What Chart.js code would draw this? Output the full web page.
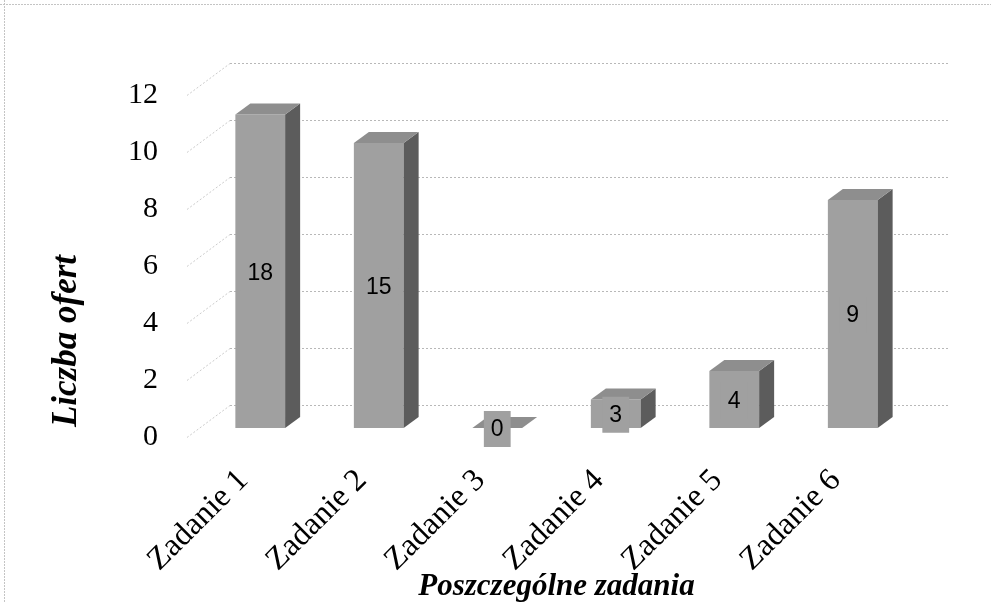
<!DOCTYPE html>
<html><head><meta charset="utf-8">
<script src="https://cdn.jsdelivr.net/npm/chart.js@4"></script>
<style>html,body{margin:0;padding:0;background:#fff}</style>
</head><body>
<canvas id="c" width="991" height="603"></canvas>
<script>
// ---- data ----
const categories = ['Zadanie 1', 'Zadanie 2', 'Zadanie 3', 'Zadanie 4', 'Zadanie 5', 'Zadanie 6'];
const barHeights = [11, 10, 0, 1, 2, 8];
const dataLabels = ['18', '15', '0', '3', '4', '9'];
const yTickValues = [0, 2, 4, 6, 8, 10, 12];
const yTitle = 'Liczba ofert';
const xTitle = 'Poszczególne zadania';

// ---- styling ----
const SERIF = '"Liberation Serif", "Times New Roman", serif';
const FRONT = '#a0a0a0', TOP = '#8e8e8e', SIDE = '#5c5c5c';
const BAR_DEPTH = {dx: 15, dy: -11};
const WALL = {dx: 29, dy: -23};
const FRONT_PLANE = {dx: -14, dy: 9};

const framePlugin = {
  id: 'frame',
  beforeDraw(chart) {
    const ctx = chart.ctx;
    ctx.save();
    ctx.fillStyle = '#fff';
    ctx.fillRect(0, 0, chart.width, chart.height);
    ctx.strokeStyle = '#c4c4c4';
    ctx.setLineDash([2, 1]);
    ctx.lineWidth = 1;
    ctx.beginPath();
    ctx.moveTo(0, 4.5); ctx.lineTo(chart.width, 4.5);
    ctx.moveTo(4.5, 0); ctx.lineTo(4.5, chart.height);
    ctx.stroke();
    ctx.restore();
  }
};

const gridPlugin = {
  id: 'grid3d',
  beforeDatasetsDraw(chart) {
    const {ctx, chartArea: a, scales: {y}} = chart;
    ctx.save();
    ctx.lineWidth = 1;
    ctx.setLineDash([2, 2]);
    y.ticks.forEach(t => {
      const py = Math.round(y.getPixelForValue(t.value)) + 0.5;
      ctx.strokeStyle = '#cccccc';
      ctx.beginPath();
      ctx.moveTo(a.left + FRONT_PLANE.dx, py + FRONT_PLANE.dy);
      ctx.lineTo(a.left + WALL.dx, py + WALL.dy);
      ctx.stroke();
      ctx.strokeStyle = '#b8b8b8';
      ctx.beginPath();
      ctx.moveTo(a.left + WALL.dx, py + WALL.dy);
      ctx.lineTo(a.right + 38, py + WALL.dy);
      ctx.stroke();
    });
    ctx.restore();
  }
};

const barPlugin = {
  id: 'bar3d',
  afterDatasetsDraw(chart) {
    const ctx = chart.ctx;
    const meta = chart.getDatasetMeta(0);
    ctx.save();
    meta.data.forEach((el, i) => {
      const {x, y, width, base} = el.getProps(['x', 'y', 'width', 'base'], true);
      const l = x - width / 2, r = x + width / 2;
      const dx = BAR_DEPTH.dx, dy = BAR_DEPTH.dy;
      ctx.fillStyle = SIDE;
      ctx.beginPath();
      ctx.moveTo(r, y); ctx.lineTo(r + dx, y + dy); ctx.lineTo(r + dx, base + dy); ctx.lineTo(r, base);
      ctx.closePath(); ctx.fill();
      ctx.fillStyle = TOP;
      ctx.beginPath();
      ctx.moveTo(l, y); ctx.lineTo(r, y); ctx.lineTo(r + dx, y + dy); ctx.lineTo(l + dx, y + dy);
      ctx.closePath(); ctx.fill();
    });
    // data labels
    ctx.font = '23px "Liberation Sans", Arial, sans-serif';
    ctx.textAlign = 'center';
    ctx.textBaseline = 'middle';
    meta.data.forEach((el, i) => {
      const {x, y, base} = el.getProps(['x', 'y', 'base'], true);
      const cy = (y + base) / 2 + 1;
      const txt = dataLabels[i];
      const w = ctx.measureText(txt).width + 14;
      ctx.fillStyle = FRONT;
      ctx.fillRect(x - w / 2, cy - 18, w, 36);
      ctx.fillStyle = '#000';
      ctx.fillText(txt, x, cy + 1);
    });
    ctx.restore();
  }
};

const yTitlePlugin = {
  id: 'ytitle',
  afterDraw(chart) {
    const ctx = chart.ctx;
    ctx.save();
    ctx.translate(76, 341);
    ctx.rotate(-Math.PI / 2);
    ctx.font = 'italic bold 35px ' + SERIF;
    ctx.fillStyle = '#000';
    ctx.textAlign = 'center';
    ctx.textBaseline = 'alphabetic';
    ctx.fillText(yTitle, 0, 0);
    ctx.restore();
  }
};

new Chart(document.getElementById('c'), {
  type: 'bar',
  data: {
    labels: categories,
    datasets: [{
      data: barHeights,
      backgroundColor: FRONT,
      borderWidth: 0,
      barPercentage: 0.42,
      categoryPercentage: 1
    }]
  },
  options: {
    responsive: false,
    animation: false,
    devicePixelRatio: 1,
    layout: {padding: {top: 86, right: 79, left: 0, bottom: 0}},
    plugins: {legend: {display: false}, tooltip: {enabled: false}},
    scales: {
      x: {
        grid: {display: false, drawTicks: false},
        border: {display: false},
        ticks: {
          autoSkip: false,
          minRotation: 45, maxRotation: 45,
          font: {family: SERIF, size: 32},
          color: '#000',
          padding: 34,
          labelOffset: -17
        },
        title: {
          display: true, text: xTitle, color: '#000',
          font: {family: SERIF, size: 31, style: 'italic', weight: 'bold', lineHeight: 1.0},
          padding: {top: 0, bottom: 1}
        },
        afterFit(s) { s.height = 175; }
      },
      y: {
        min: 0, max: 12,
        afterBuildTicks(s) { s.ticks = yTickValues.map(v => ({value: v})); },
        grid: {display: false, drawTicks: false},
        border: {display: false},
        ticks: {
          font: {family: SERIF, size: 30},
          color: '#000',
          padding: 43,
          labelOffset: 9
        },
        afterFit(s) { s.width = 201; }
      }
    }
  },
  plugins: [framePlugin, gridPlugin, barPlugin, yTitlePlugin]
});
</script>
</body></html>
